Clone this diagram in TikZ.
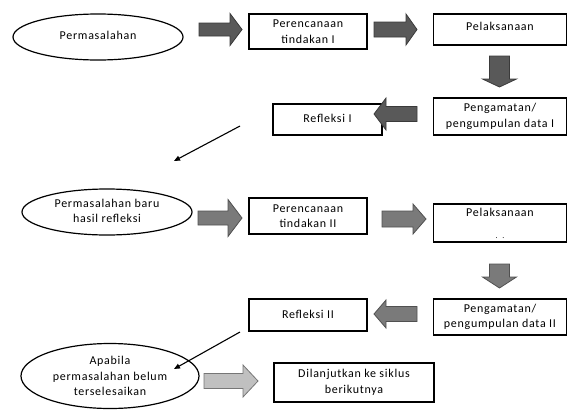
\documentclass[tikz,border=0pt]{standalone}
\usepackage{fontspec}
\setmainfont{Carlito}[LetterSpace=6]
\usetikzlibrary{shapes.geometric,arrows.meta}
\newcommand\harrow[7]{%
  \filldraw[#7] (#1,{#4-#5}) -- (#2,{#4-#5}) -- (#2,{#4-#6}) -- (#3,#4) -- (#2,{#4+#6}) -- (#2,{#4+#5}) -- (#1,{#4+#5}) -- cycle;}
\newcommand\varrow[7]{%
  \filldraw[#7] ({#4-#5},#1) -- ({#4-#5},#2) -- ({#4-#6},#2) -- (#4,#3) -- ({#4+#6},#2) -- ({#4+#5},#2) -- ({#4+#5},#1) -- cycle;}
\definecolor{darkfill}{HTML}{595959}
\definecolor{darkline}{HTML}{3A3A3A}
\definecolor{midfill}{HTML}{7A7A7A}
\definecolor{midline}{HTML}{505050}
\definecolor{lightfill}{HTML}{C0C0C0}
\definecolor{lightline}{HTML}{767676}
\begin{document}
\begin{tikzpicture}[x=1pt,y=-1pt,
  every node/.style={font=\fontsize{12}{15.5}\selectfont, align=center, inner sep=0pt},
  box/.style={draw=black, line width=1.3pt, rectangle},
  oval/.style={draw=black, line width=1.2pt, ellipse},
  darkarrow/.style={fill=darkfill, draw=darkline, line width=0.8pt},
  midarrow/.style={fill=midfill, draw=midline, line width=0.8pt},
  lightarrow/.style={fill=lightfill, draw=lightline, line width=0.8pt},
  thinarrow/.style={draw=black, line width=1.1pt, -{Triangle[length=6pt,width=5pt]}}]
\useasboundingbox (0,0) rectangle (568,410);
% row 1
\node[oval, minimum width=170pt, minimum height=46pt] (e1) at (98,37) {\raisebox{3pt}{Permasalahan}};
\node[box, minimum width=118pt, minimum height=35pt] (b1) at (308,31.5) {Perencanaan\\tindakan I};
\node[box, minimum width=133pt, minimum height=31pt] (b2) at (500,29.5) {\raisebox{6pt}{Pelaksanaan}};
\node[box, minimum width=133pt, minimum height=37pt] (b3) at (500,116.5) {Pengamatan/\\pengumpulan data I};
\node[box, minimum width=109pt, minimum height=31pt] (b4) at (327.5,119.5) {\raisebox{3pt}{Refleksi I}};
\harrow{199}{230}{242}{29.5}{6.5}{16}{darkarrow}
\harrow{374}{406}{417}{29.5}{7.5}{15.5}{darkarrow}
\varrow{56}{79}{87}{499.5}{10}{17}{darkarrow}
\harrow{417}{386}{374}{114}{7.5}{16}{darkarrow}
\coordinate (d1s) at (240,126);
\coordinate (d1e) at (174,161);
\draw[thinarrow] (d1s) -- (d1e);
% row 2
\node[oval, minimum width=170pt, minimum height=46pt] (e2) at (107,212) {\raisebox{7pt}{\begin{tabular}{@{}c@{}}Permasalahan baru\\hasil refleksi\end{tabular}}};
\node[box, minimum width=118pt, minimum height=36pt] (b5) at (308,216) {Perencanaan\\tindakan II};
\node[box, minimum width=133pt, minimum height=38pt] (b6) at (500,223) {Pelaksanaan\\[6.5pt]{\fontsize{8}{9}\selectfont .\ \ .}};
\node[box, minimum width=133pt, minimum height=36pt] (b7) at (500,317) {\raisebox{-1pt}{\begin{tabular}{@{}c@{}}Pengamatan/\\pengumpulan data II\end{tabular}}};
\node[box, minimum width=118pt, minimum height=32pt] (b8) at (308,315) {\raisebox{2pt}{Refleksi II}};
\harrow{198}{228}{242}{218}{7}{18.5}{midarrow}
\harrow{382}{413}{426}{219}{8}{15}{midarrow}
\varrow{264}{277}{288}{499.5}{10}{17}{midarrow}
\harrow{417}{386}{374}{314}{7.5}{14}{midarrow}
\coordinate (d2s) at (240,332);
\coordinate (d2e) at (174,369);
% row 3
\node[oval, minimum width=178pt, minimum height=65pt] (e3) at (110,376) {Apabila\\permasalahan belum\\terselesaikan};
\node[box, minimum width=160pt, minimum height=39pt] (b9) at (354,382.5) {Dilanjutkan ke siklus\\berikutnya};
\harrow{204}{243}{258}{381}{7.5}{16}{lightarrow}
\draw[thinarrow] (d2s) -- (d2e);
\end{tikzpicture}
\end{document}
